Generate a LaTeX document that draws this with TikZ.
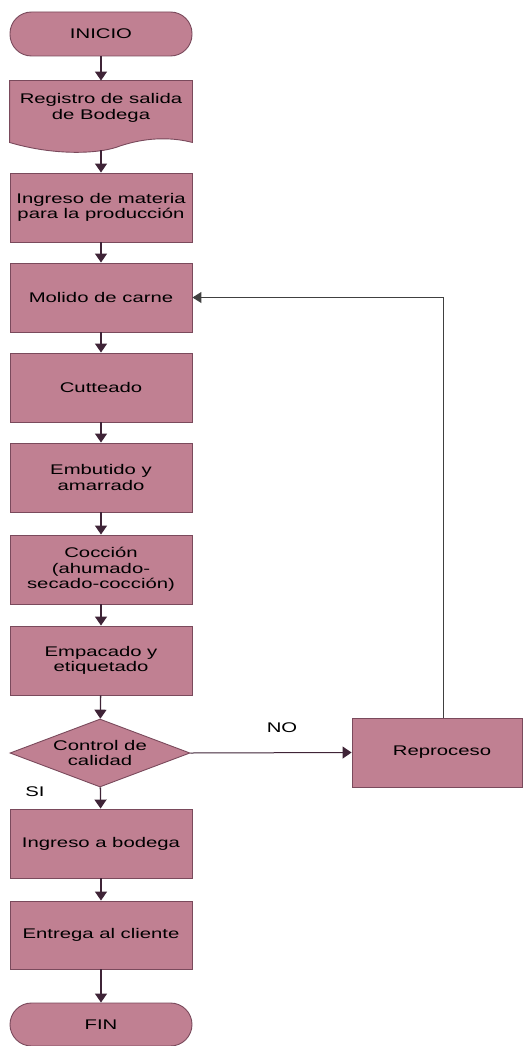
\documentclass[tikz,border=0pt]{standalone}
\usepackage{fontspec}
\setmainfont{Liberation Sans}[FakeStretch=1.45]
\usetikzlibrary{arrows.meta,shapes.geometric}
\definecolor{boxfill}{HTML}{C08092}
\definecolor{boxline}{HTML}{7A4A5C}
\definecolor{flowline}{HTML}{3F2437}
\tikzset{
  base/.style={fill=boxfill, draw=boxline, line width=0.9pt, inner sep=0pt,
    align=center, font=\fontsize{14}{15.5}\selectfont},
  procbox/.style={base, rectangle, minimum width=182pt, minimum height=69pt},
  termbox/.style={base, rectangle, rounded corners=21.5pt, minimum width=182pt, minimum height=44pt},
  docbox/.style={base, draw=none, fill=none, rectangle, minimum width=182pt, minimum height=61pt},
  decbox/.style={base, diamond, aspect=2.65, minimum width=180pt, minimum height=68pt},
  flow/.style={draw=flowline, line width=1.3pt, -{Triangle[width=12pt,length=9pt]}},
  loopline/.style={draw=black!75, line width=1pt, -{Triangle[width=11pt,length=9pt]}},
  lbl/.style={font=\fontsize{14}{15.5}\selectfont, inner sep=0pt}
}
\begin{document}
\begin{tikzpicture}[x=1pt,y=-1pt]
\useasboundingbox (0,0) rectangle (525,1046);

\node[termbox] (inicio) at (101,34) {INICIO};

% document symbol with wavy lower edge
\node[docbox] (reg) at (101,111.5) {};
\fill[boxfill, draw=boxline, line width=0.9pt]
  (reg.north west) -- (reg.north east) -- (reg.south east)
  .. controls (175,138) and (150,136) .. (120,146)
  .. controls (100,154) and (55,156) .. (reg.south west) -- cycle;
\node[lbl, align=center] (regtxt) at (101,108) {Registro de salida\\de Bodega};
\coordinate (regbot) at (101,150);

\node[procbox] (ing)  at (101,207.5) {Ingreso de materia\\para la producción};
\node[procbox] (mol)  at (101,297.5) {Molido de carne};
\node[procbox] (cut)  at (101,387.5) {Cutteado};
\node[procbox] (emb)  at (101,477.5) {Embutido y\\amarrado};
\node[procbox] (coc)  at (101,569.5) {Cocción\\(ahumado-\\secado-cocción)};
\node[procbox] (emp)  at (101,660.5) {Empacado y\\etiquetado};
\node[decbox]  (dec)  at (100,753)   {Control de\\calidad};
\node[procbox, minimum width=170pt] (rep) at (437,752.5) {\hspace*{10pt}Reproceso};
\node[procbox] (ingb) at (101,843.5) {Ingreso a bodega};
\node[procbox, minimum height=68pt] (ent) at (101,935) {Entrega al cliente};
\node[termbox, minimum height=43pt] (fin) at (101,1024.5) {FIN};

\draw[flow] (inicio) -- (reg.north);
\draw[flow] (regbot) -- (ing);
\draw[flow] (ing) -- (mol);
\draw[flow] (mol) -- (cut);
\draw[flow] (cut) -- (emb);
\draw[flow] (emb) -- (coc);
\draw[flow] (coc) -- (emp);
\draw[flow] (emp) -- (dec);
\draw[flow] (dec) -- (ingb);
\draw[flow] (ingb) -- (ent);
\draw[flow] (ent) -- (fin);

\draw[flow, line width=1pt] (dec.east) -- (rep.west);
\coordinate (loopstart) at (443,718);
\draw[loopline] (loopstart) |- (mol.east);

\node[lbl] (nolbl) at (282,728) {NO};
\node[lbl] (silbl) at (35,792) {SI};
\end{tikzpicture}
\end{document}
